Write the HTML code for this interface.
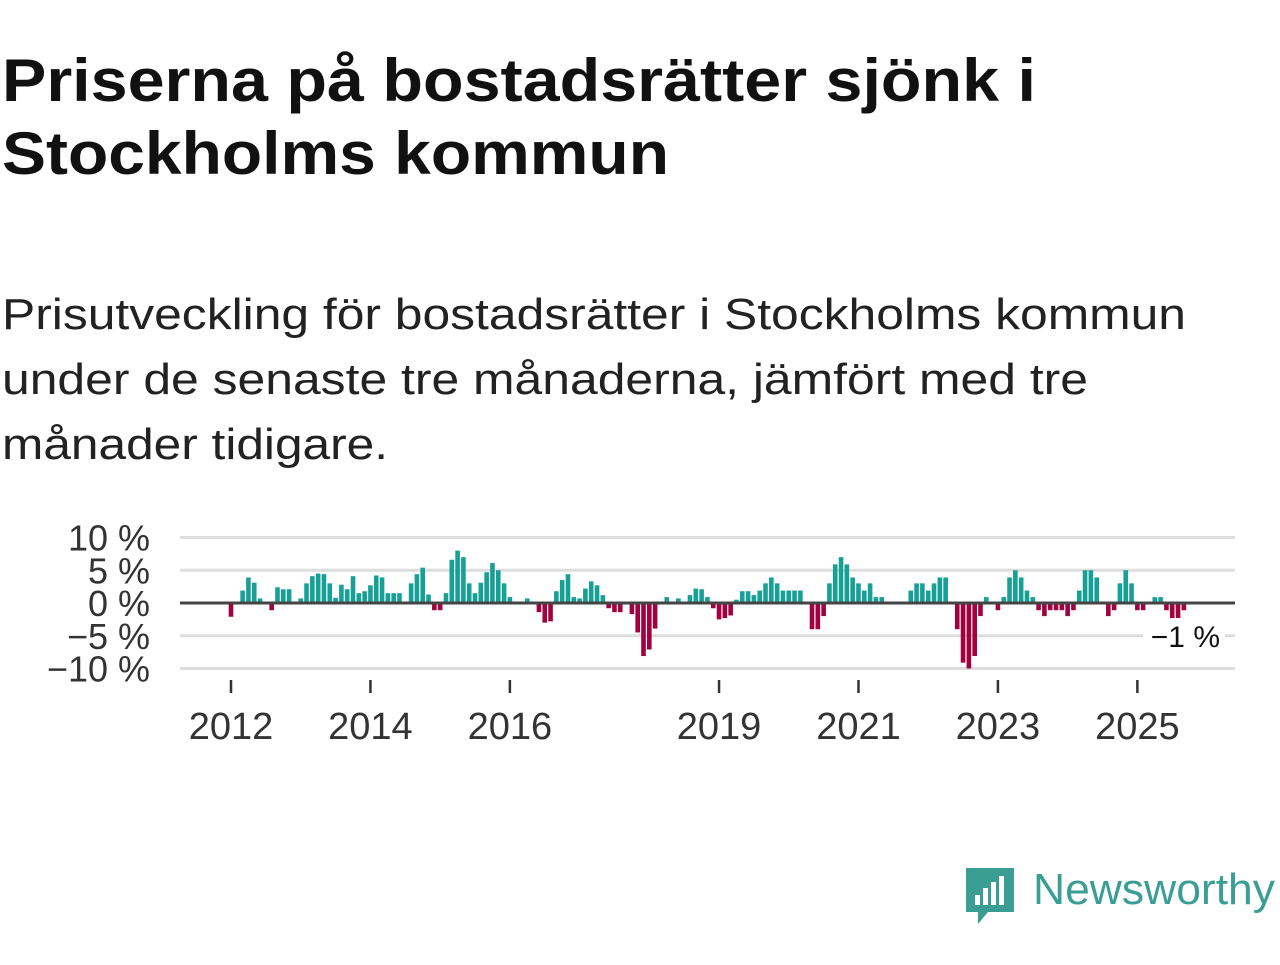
<!DOCTYPE html>
<html><head><meta charset="utf-8"><style>
body{margin:0;background:#fff;width:1280px;height:960px;overflow:hidden;font-family:"Liberation Sans",sans-serif}
</style></head><body>
<svg width="1280" height="960" viewBox="0 0 1280 960" xmlns="http://www.w3.org/2000/svg">
<g font-family="Liberation Sans, sans-serif" fill="#111">
<text x="2" y="101" font-size="60" font-weight="bold" textLength="1034" lengthAdjust="spacingAndGlyphs">Priserna på bostadsrätter sjönk i</text>
<text x="2" y="174" font-size="60" font-weight="bold" textLength="667" lengthAdjust="spacingAndGlyphs">Stockholms kommun</text>
<text x="2" y="329" font-size="44" fill="#222" textLength="1184" lengthAdjust="spacingAndGlyphs">Prisutveckling för bostadsrätter i Stockholms kommun</text>
<text x="2" y="394" font-size="44" fill="#222" textLength="1086" lengthAdjust="spacingAndGlyphs">under de senaste tre månaderna, jämfört med tre</text>
<text x="2" y="459" font-size="44" fill="#222" textLength="386" lengthAdjust="spacingAndGlyphs">månader tidigare.</text>
</g>
<g id="plot"></g>
<g>
<path d="M966 868 h48 v44 h-26 l-10 12 v-12 h-12 z" fill="#3a9e95"/>
<rect x="975" y="895" width="5" height="10" fill="#fff"/><rect x="983" y="888" width="5" height="17" fill="#fff"/><rect x="991" y="882" width="5" height="23" fill="#fff"/><rect x="999" y="876" width="5" height="29" fill="#fff"/>
<text x="1033" y="904" font-family="Liberation Sans, sans-serif" font-size="44" fill="#3a9e95" textLength="242" lengthAdjust="spacingAndGlyphs">Newsworthy</text>
</g>
</svg>
<script>
const values=[-2.1,0,1.9,3.9,3.1,0.7,0,-1.1,2.4,2.1,2.1,0,0.7,3.0,4.1,4.5,4.4,3.0,0.8,2.8,2.1,4.1,1.5,1.8,2.7,4.2,3.9,1.5,1.5,1.5,0,3.0,4.4,5.4,1.3,-1.1,-1.1,1.5,6.6,8.0,
7.0,3.0,1.5,3.1,4.7,6.1,5.0,3.0,0.9,0,0,0.7,0,-1.4,-3.0,-2.8,1.8,3.5,4.4,0.9,0.7,2.2,3.3,2.7,1.2,-0.8,-1.4,-1.4,0,-1.7,-4.5,-8.1,-7.1,-3.9,0,0.9,0,0.7,0,1.2,2.2,2.1,0.9,-0.8,-2.5,-2.3,-1.9,
0.5,1.8,1.8,1.2,1.9,3.0,3.9,3.0,1.9,1.9,1.9,1.9,0,-4.0,-4.0,-2.0,3.0,5.9,7.0,5.9,3.9,3.0,1.9,3.0,0.9,0.9,0,0,0,0,1.9,3.0,3.0,1.9,3.0,3.9,3.9,0,-4.0,-9.1,-10,-8.1,-2.0,0.9,0,-1.1,
0.9,3.9,5.0,3.9,1.9,0.9,-1.1,-2.0,-1.1,-1.1,-1.1,-2.0,-1.1,1.9,5.0,5.0,3.9,0,-2.0,-1.1,3.0,5.0,3.0,-1.1,-1.1,0,0.9,0.9,-1.1,-2.3,-2.3,-1.1];
const startYear=2012;
const yTicks=[10,5,0,-5,-10];
const yTickLabels=["10 %","5 %","0 %","\u22125 %","\u221210 %"];
const xTickYears=[2012,2014,2016,2019,2021,2023,2025];
const lastLabel="\u22121 %";
const NS="http://www.w3.org/2000/svg";
const g=document.getElementById('plot');
const x0=231,pxMonth=5.81,y0=603,pxPct=6.55;
function xScale(m){return x0+m*pxMonth;}
function yScale(v){return y0-v*pxPct;}
function mk(t,a){const e=document.createElementNS(NS,t);for(const k in a)e.setAttribute(k,a[k]);g.appendChild(e);return e;}
yTicks.forEach((v,i)=>{
  const l=mk('line',{x1:180,x2:1235,y1:yScale(v),y2:yScale(v),stroke:'#ddd','stroke-width':3});
  
  
  const t=mk('text',{x:150,y:yScale(v)+13,'text-anchor':'end','font-size':36,fill:'#333','font-family':'Liberation Sans, sans-serif'});
  t.textContent=yTickLabels[i];
  
  
});
values.forEach((v,i)=>{
  if(v===0)return;
  const y=yScale(Math.max(v,0)),h=Math.abs(yScale(v)-y0);
  const r=mk('rect',{x:xScale(i)-2.3,y:y,width:4.6,height:h,fill:v>0?'#17a096':'#a3003f'});
  
  
});
const z=mk('line',{x1:180,x2:1235,y1:y0,y2:y0,stroke:'#444','stroke-width':3});


const bg=mk('rect',{x:1143,y:620,width:82,height:34,fill:'#fff'});


const lt=mk('text',{x:1220,y:647,'text-anchor':'end','font-size':30,fill:'#111','font-family':'Liberation Sans, sans-serif'});
lt.textContent=lastLabel;


xTickYears.forEach(yr=>{
  const x=xScale((yr-startYear)*12);
  const tk=mk('line',{x1:x,x2:x,y1:680,y2:693,stroke:'#333','stroke-width':2.5});
  
  
  const t=mk('text',{x:x,y:739,'text-anchor':'middle','font-size':38,fill:'#333','font-family':'Liberation Sans, sans-serif'});
  t.textContent=yr;
  
  
});
</script>
</body></html>
